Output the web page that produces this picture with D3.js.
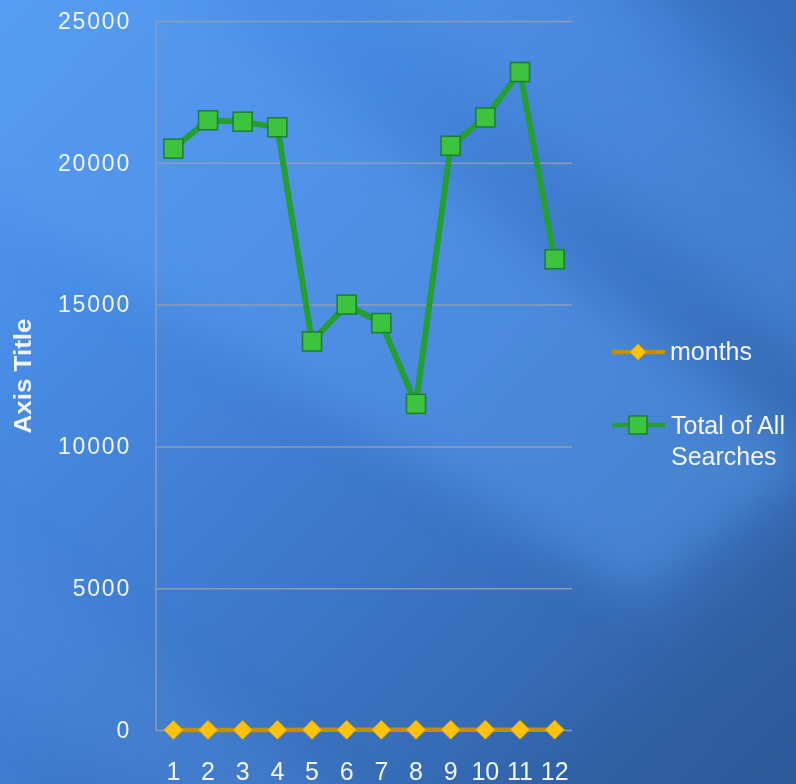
<!DOCTYPE html>
<html>
<head>
<meta charset="utf-8">
<script src="https://cdn.jsdelivr.net/npm/d3@7"></script>
<style>
  html, body { margin: 0; padding: 0; background: #3f7bd0; }
  svg { display: block; }
  text { font-family: "Liberation Sans", Arial, sans-serif; }
</style>
</head>
<body>
<svg id="chart" width="796" height="784"></svg>
<script>
// Chart data
const months = [1, 2, 3, 4, 5, 6, 7, 8, 9, 10, 11, 12];
const monthSeries = [1, 2, 3, 4, 5, 6, 7, 8, 9, 10, 11, 12];
const totalSearches = [20500, 21500, 21450, 21250, 13700, 15000, 14350, 11500, 20600, 21600, 23200, 16600];
const yTicks = [0, 5000, 10000, 15000, 20000, 25000];
const seriesNames = ["months", "Total of All Searches"];

const W = 796, H = 784;
const plot = { left: 156, right: 572, top: 21, bottom: 730 };

const svg = d3.select("#chart");
const defs = svg.append("defs");

// Background: diagonal blue gradient with soft light streaks
const bg = defs.append("linearGradient").attr("id", "bg")
  .attr("gradientUnits", "userSpaceOnUse")
  .attr("x1", 0).attr("y1", 0).attr("x2", 796).attr("y2", 784);
[[0, "#519af5"], [0.3, "#4688e0"], [0.65, "#3a72c0"], [1, "#2d5b9c"]]
  .forEach(([o, c]) => bg.append("stop").attr("offset", o).attr("stop-color", c));

const blur = defs.append("filter").attr("id", "soft")
  .attr("filterUnits", "userSpaceOnUse")
  .attr("x", -300).attr("y", -300).attr("width", 1400).attr("height", 1400);
blur.append("feGaussianBlur").attr("stdDeviation", 24);

svg.append("rect").attr("width", W).attr("height", H).attr("fill", "url(#bg)");

const streaks = svg.append("g").attr("filter", "url(#soft)");
const streakShapes = [
  { pts: [[-200, 80], [60, -100], [820, 460], [640, 600]], c: "#5a9ff2", op: 0.45 },
  { pts: [[320, -60], [470, -120], [900, 260], [880, 420]], c: "#5597ea", op: 0.35 },
  { pts: [[-200, 560], [-120, 460], [480, 900], [300, 900]], c: "#4d8ddc", op: 0.35 },
  { pts: [[600, -60], [820, -60], [900, 80], [880, 160]], c: "#2d5fa6", op: 0.45 },
  { pts: [[380, 900], [900, 480], [900, 900]], c: "#2d5b9c", op: 0.45 }
];
streakShapes.forEach(s => {
  streaks.append("path")
    .attr("d", "M" + s.pts.map(p => p.join(",")).join("L") + "Z")
    .attr("fill", s.c).attr("opacity", s.op);
});

// Scales
const x = d3.scaleBand().domain(months).range([plot.left, plot.right]);
const cx = d => x(d) + x.bandwidth() / 2;
const y = d3.scaleLinear().domain([0, 25000]).range([plot.bottom, plot.top]);

// Y axis with gridlines
const yAxis = svg.append("g")
  .attr("transform", `translate(${plot.left},0)`)
  .call(d3.axisLeft(y).tickValues(yTicks).tickFormat(d3.format("d"))
    .tickSize(-(plot.right - plot.left)).tickPadding(25));
yAxis.select(".domain").remove();
yAxis.selectAll(".tick line").attr("stroke", "#8e9cb2").attr("stroke-width", 1.5);
yAxis.selectAll(".tick text")
  .attr("fill", "#f2f6fc").attr("font-size", 23).attr("letter-spacing", 1.8)
  .style("font-family", "'Liberation Sans', Arial, sans-serif");

// Vertical axis line
svg.append("line")
  .attr("x1", plot.left).attr("x2", plot.left)
  .attr("y1", plot.top).attr("y2", plot.bottom)
  .attr("stroke", "#8e9cb2").attr("stroke-width", 1.5);

// X axis labels
const xAxis = svg.append("g")
  .attr("transform", `translate(0,${plot.bottom})`)
  .call(d3.axisBottom(x).tickSize(0));
xAxis.select(".domain").remove();
xAxis.selectAll(".tick text")
  .attr("y", 50).attr("dy", 0)
  .attr("fill", "#f2f6fc").attr("font-size", 25)
  .style("font-family", "'Liberation Sans', Arial, sans-serif");

// Axis title
svg.append("text")
  .attr("transform", "translate(31,376) rotate(-90)")
  .attr("text-anchor", "middle")
  .attr("fill", "#f2f6fc").attr("font-size", 23).attr("font-weight", "bold")
  .attr("textLength", 115).attr("lengthAdjust", "spacingAndGlyphs")
  .text("Axis Title");

const line = d3.line().x((d, i) => cx(months[i])).y(d => y(d));

// Series: months (gold diamonds)
const diamond = "M0,-9.5L9.5,0L0,9.5L-9.5,0Z";
svg.append("path").datum(monthSeries)
  .attr("d", line).attr("fill", "none")
  .attr("stroke", "#c29000").attr("stroke-width", 4.5);
svg.append("g").selectAll("path").data(monthSeries).join("path")
  .attr("transform", (d, i) => `translate(${cx(months[i])},${y(d)})`)
  .attr("d", diamond)
  .attr("fill", "#ffc20a").attr("stroke", "#d9a300").attr("stroke-width", 1);

// Series: Total of All Searches (green squares)
svg.append("path").datum(totalSearches)
  .attr("d", line).attr("fill", "none")
  .attr("stroke", "#23a02f").attr("stroke-width", 6).attr("stroke-linejoin", "round");
const sq = 19;
svg.append("g").selectAll("rect").data(totalSearches).join("rect")
  .attr("x", (d, i) => cx(months[i]) - sq / 2)
  .attr("y", d => y(d) - sq / 2)
  .attr("width", sq).attr("height", sq)
  .attr("fill", "#3cc43f").attr("stroke", "#1d7d33").attr("stroke-width", 1.5);

// Legend
const legend = svg.append("g");
// months entry
legend.append("line").attr("x1", 612).attr("x2", 665).attr("y1", 352).attr("y2", 352)
  .attr("stroke", "#c29000").attr("stroke-width", 4.5);
legend.append("path").attr("transform", "translate(638,352)")
  .attr("d", "M0,-8L8,0L0,8L-8,0Z")
  .attr("fill", "#ffc20a").attr("stroke", "#d9a300").attr("stroke-width", 1);
legend.append("text").attr("x", 670).attr("y", 360)
  .attr("fill", "#f2f6fc").attr("font-size", 25).text(seriesNames[0]);
// Total of All Searches entry
legend.append("line").attr("x1", 612).attr("x2", 665).attr("y1", 425).attr("y2", 425)
  .attr("stroke", "#23a02f").attr("stroke-width", 4.5);
legend.append("rect").attr("x", 629).attr("y", 416).attr("width", 18).attr("height", 18)
  .attr("fill", "#3cc43f").attr("stroke", "#1d7d33").attr("stroke-width", 1.5);
const lt = legend.append("text").attr("fill", "#f2f6fc").attr("font-size", 25);
lt.append("tspan").attr("x", 671).attr("y", 434).text("Total of All");
lt.append("tspan").attr("x", 671).attr("y", 465).text("Searches");
</script>
</body>
</html>
